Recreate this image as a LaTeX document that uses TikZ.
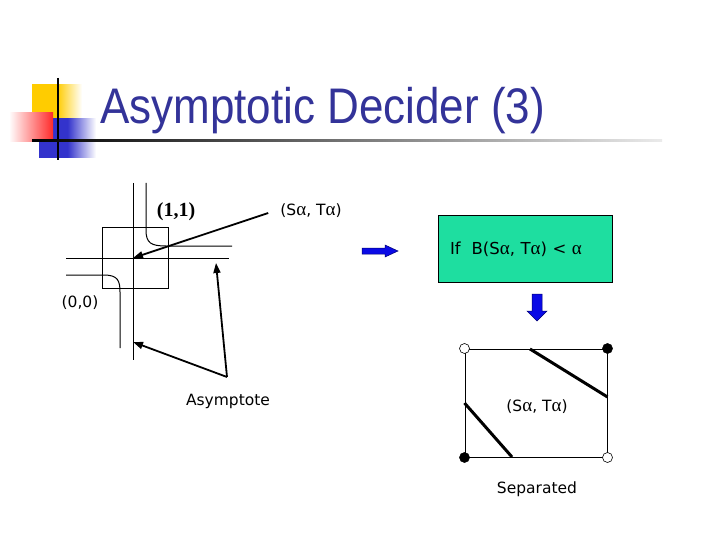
\documentclass[tikz,border=0pt]{standalone}
\usepackage{fontspec}
\setmainfont{DejaVu Sans}
\newfontfamily\titlefont{Liberation Sans}
\newfontfamily\labelserif{Liberation Serif}
\newcommand\al{{\labelserif\fontsize{19}{20}\selectfont α}}
\usetikzlibrary{arrows.meta}
\definecolor{titleblue}{HTML}{333399}
\definecolor{boxgreen}{HTML}{1EDEA0}
\definecolor{arrowblue}{HTML}{0A0AE6}
\definecolor{decoyellow}{HTML}{FFCC00}
\definecolor{decored}{HTML}{FF2A2A}
\definecolor{decoblue}{HTML}{3333CC}
\begin{document}
\begin{tikzpicture}[x=1pt, y=-1pt,
  lbl/.style={font=\fontsize{15.5}{18}\selectfont, inner sep=0pt},
  asym/.style={line width=1pt},
  pointer/.style={line width=1.8pt, -{Triangle[length=10pt,width=7pt]}},
  bigarrow/.style={fill=arrowblue, draw=blue!45!black, line width=0.5pt},
  corner/.style={circle, draw, line width=0.6pt, minimum size=10pt, inner sep=0pt},
  cut/.style={line width=3pt}
]
\useasboundingbox (0,0) rectangle (720,540);
\fill[white] (0,0) rectangle (720,540);

\shade[left color=decoyellow, right color=white, middle color=decoyellow] (32,85) rectangle (82,119);
\shade[left color=decoblue, right color=white, middle color=decoblue] (39,119) rectangle (96,158);
\shade[left color=white, right color=decored] (9,113) rectangle (53,142);
\draw[line width=2pt] (58,78) -- (58,160);
\shade[left color=black, right color=white!92!black] (32,140) rectangle (662,142);
\node[font=\titlefont\fontsize{50}{56}\selectfont, text=titleblue, anchor=base west, inner sep=0pt, xscale=0.88] (title) at (100,124) {Asymptotic Decider (3)};

\node[draw, line width=1pt, minimum width=66pt, minimum height=60pt, inner sep=0pt] (cell) at (135,258) {};
\draw[asym] (133,183) -- (133,360);
\draw[asym] (66,258) -- (229,258);
\draw[asym] (146,183) -- (146,230) .. controls (146,243) and (151,246) .. (166,246) -- (232,246);
\draw[asym] (66,275) -- (104,275) .. controls (118,275) and (120,281) .. (120,292) -- (120,348);
\coordinate (saddle) at (133,258);
\coordinate (asymA) at (216,263);
\coordinate (asymB) at (133,342);
\coordinate (asytail) at (227,377);

\node[font=\labelserif\bfseries\fontsize{20}{22}\selectfont, inner sep=0pt] (one) at (176,212) {(1,1)};
\node[lbl] (zero) at (80,303) {(0,0)};
\node[lbl] (sat) at (311,211) {(S\al, T\al)};
\node[lbl] (asy) at (228,401) {Asymptote};
\draw[pointer] ([xshift=-12pt, yshift=-2pt]sat.west) -- (saddle);
\draw[pointer] (asytail) -- (asymA);
\draw[pointer] (asytail) -- (asymB);

\draw[bigarrow] (362,248) -- (385,248) -- (385,245) -- (398,251) -- (385,257) -- (385,254) -- (362,254) -- cycle;

\node[draw, line width=1pt, fill=boxgreen, minimum width=174pt, minimum height=66pt, text width=150pt, inner xsep=12pt, align=left, font=\fontsize{16.5}{18}\selectfont] (test) at (525,249) {If~~B(S\al, T\al) < \al};

\draw[bigarrow] (532,294) -- (542,294) -- (542,311) -- (547,311) -- (537,321) -- (527,311) -- (532,311) -- cycle;

\node[draw, line width=1pt, minimum width=142pt, minimum height=108pt, inner sep=0pt] (sep) at (536,403) {};
\draw[cut] (530,349) -- (sep.east |- 0,397);
\draw[cut] (sep.west |- 0,403) -- (512,457);
\node[corner, fill=white] (c00) at (sep.north west) {};
\node[corner, fill=black] (c10) at (sep.north east) {};
\node[corner, fill=black] (c01) at (sep.south west) {};
\node[corner, fill=white] (c11) at (sep.south east) {};
\node[lbl] (sepsat) at (537,407) {(S\al, T\al)};
\node[lbl] (seplbl) at (537,489) {Separated};
\end{tikzpicture}
\end{document}
